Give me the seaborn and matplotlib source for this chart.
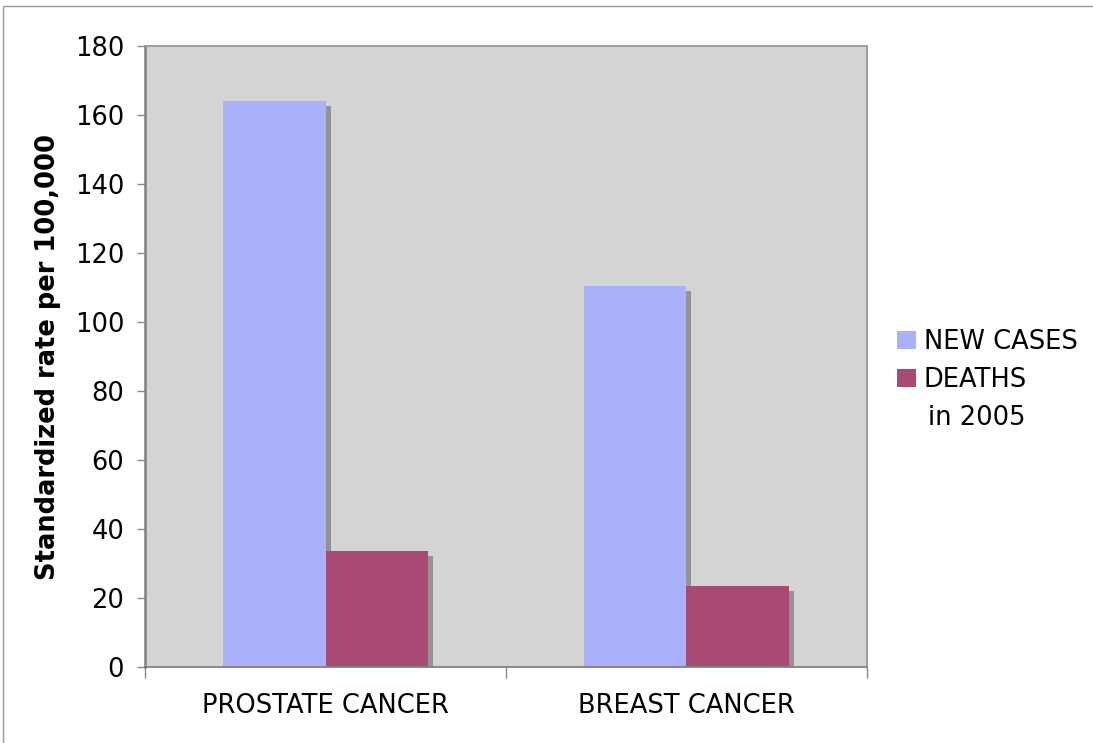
import matplotlib
matplotlib.use("Agg")
import matplotlib.pyplot as plt
from matplotlib.patches import Rectangle, Patch
from matplotlib.transforms import ScaledTranslation
import seaborn as sns
import pandas as pd

# Data
categories = ["PROSTATE CANCER", "BREAST CANCER"]
series = ["NEW CASES", "DEATHS"]
new_cases = [164, 110.5]
deaths = [33.5, 23.5]
y_ticks = [0, 20, 40, 60, 80, 100, 120, 140, 160, 180]

df = pd.DataFrame({
    "category": categories * 2,
    "series": [series[0]] * 2 + [series[1]] * 2,
    "rate": new_cases + deaths,
})

sns.set_style("white")
plt.rcParams["font.family"] = ["DejaVu Sans"]
plt.rcParams["text.color"] = "black"
plt.rcParams["axes.labelcolor"] = "black"
plt.rcParams["xtick.color"] = "black"
plt.rcParams["ytick.color"] = "black"

fig = plt.figure(figsize=(10.93, 7.43), dpi=100)
ax = fig.add_axes([0.1327, 0.1023, 0.6605, 0.8357])
ax.set_facecolor("#d4d4d4")

palette = {"NEW CASES": "#aab0fa", "DEATHS": "#a84a74"}
sns.barplot(data=df, x="category", y="rate", hue="series", order=categories,
            hue_order=series, palette=palette, width=0.57, saturation=1,
            edgecolor="none", linewidth=0, legend=False, ax=ax)

# Drop shadows offset down and to the right of each bar
shift = ScaledTranslation(5 / 100, -5 / 100, fig.dpi_scale_trans)
for bar in list(ax.patches):
    x0, y0 = bar.get_xy()
    sh = Rectangle((x0, y0), bar.get_width(), bar.get_height(),
                   transform=ax.transData + shift, facecolor="#939393",
                   edgecolor="none", zorder=bar.get_zorder() - 0.5)
    ax.add_patch(sh)

ax.set_xlim(-0.5, 1.5)
ax.set_ylim(0, 180)
ax.set_yticks(y_ticks)
ax.set_xticks([0, 1])
ax.set_xticklabels(categories)
ax.set_xticks([-0.5, 0.5, 1.5], minor=True)
ax.tick_params(axis="x", which="major", bottom=False, length=0, pad=19, labelsize=18.5)
ax.tick_params(axis="x", which="minor", bottom=True, length=8, width=1,
               color="#888888", direction="out")
ax.tick_params(axis="y", left=True, length=6, width=1, color="#888888",
               direction="out", pad=9, labelsize=18.5)
ax.set_xlabel("")
ax.set_ylabel("Standardized rate per 100,000", fontsize=18.5, fontweight="bold", labelpad=10)

for side in ["left", "bottom", "top", "right"]:
    ax.spines[side].set_visible(True)
    ax.spines[side].set_color("#999999")
    ax.spines[side].set_linewidth(1.3)
ax.spines["left"].set_color("#808080")
ax.spines["bottom"].set_color("#808080")
ax.spines["left"].set_linewidth(1.8)

# Legend
handles = [Patch(facecolor=palette[s], edgecolor="none") for s in series]
fig.legend(handles, series, loc="upper left", bbox_to_anchor=(0.821, 0.557),
           frameon=False, fontsize=18.5, handlelength=0.72, handleheight=0.72,
           handletextpad=0.3, labelspacing=0.45, borderaxespad=0, borderpad=0)
fig.text(0.849, 0.438, "in 2005", fontsize=18.5, ha="left", va="center")

# Outer chart frame
fig.add_artist(Rectangle((0.003, -0.1), 1.1, 1.092, transform=fig.transFigure,
                         fill=False, edgecolor="#999999", linewidth=1))

fig.savefig("out.png", dpi=100)
